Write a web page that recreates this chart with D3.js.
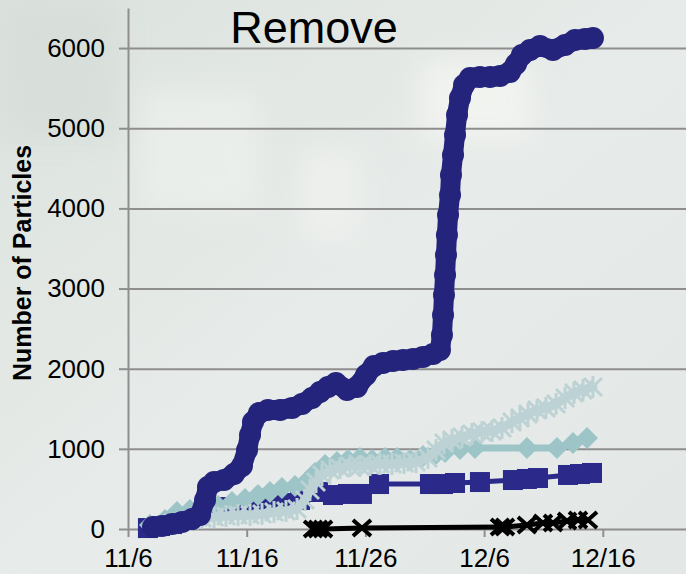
<!DOCTYPE html>
<html>
<head>
<meta charset="utf-8">
<script src="https://cdn.jsdelivr.net/npm/d3@7"></script>
<style>
  body { margin: 0; background: #e6ebe9; }
  text { font-family: "Liberation Sans", Arial, sans-serif; }
</style>
</head>
<body>
<div id="chart"></div>
<script>
// chart size
var svgWidth = 686;
var svgHeight = 574;

// tick labels
var xTickLabels = ["11/6", "11/16", "11/26", "12/6", "12/16"];
var yTicks = [0, 1000, 2000, 3000, 4000, 5000, 6000];

// days after 11/6 and particle counts
var circleDays = [2.11, 2.86, 3.71, 4.55, 5.39, 6.07, 6.49, 6.74, 7.25, 8.09, 8.93, 9.60, 10.03, 10.28, 10.53, 11.04, 11.79, 12.81, 13.82, 14.66, 15.50, 16.18, 16.85, 17.52, 18.45, 19.29, 20.05, 20.72, 21.48, 22.33, 23.17, 24.01, 24.85, 25.70, 26.28, 26.45, 26.54, 26.62, 26.71, 26.79, 26.87, 26.96, 27.13, 27.21, 27.38, 27.55, 27.72, 27.97, 28.31, 28.81, 29.65, 30.50, 31.34, 32.18, 32.69, 33.19, 33.87, 34.71, 35.80, 36.82, 37.66, 38.50, 39.17];
var circleVals = [25, 37, 62, 87, 125, 175, 362, 524, 586, 611, 686, 786, 986, 1173, 1335, 1447, 1485, 1485, 1510, 1560, 1634, 1709, 1772, 1822, 1734, 1772, 1921, 2034, 2071, 2096, 2109, 2121, 2146, 2183, 2233, 2420, 2670, 2920, 3169, 3419, 3668, 3918, 4167, 4417, 4666, 4916, 5165, 5377, 5540, 5627, 5640, 5640, 5652, 5702, 5802, 5914, 5976, 6026, 5976, 6039, 6101, 6113, 6126];

var diamondDays = [1.85, 3.12, 4.13, 5.22, 6.49, 7.58, 8.76, 9.86, 10.95, 11.96, 12.97, 14.07, 14.91, 15.75, 16.60, 17.61, 18.53, 19.54, 20.56, 21.65, 22.66, 23.76, 24.85, 25.86, 26.71, 27.97, 29.23, 33.61, 36.14, 37.49, 38.67];
var diamondVals = [50, 112, 212, 237, 262, 287, 337, 374, 424, 462, 512, 536, 574, 699, 799, 836, 861, 886, 861, 886, 886, 861, 911, 923, 961, 998, 1011, 1011, 1011, 1073, 1135];

var starDays = [3.12, 4.21, 5.22, 6.23, 7.25, 8.26, 9.27, 10.28, 11.29, 12.30, 13.31, 14.24, 14.91, 15.33, 15.84, 16.34, 17.02, 17.86, 18.70, 19.54, 20.39, 21.23, 22.24, 23.25, 24.26, 25.27, 25.95, 26.62, 27.30, 28.14, 28.98, 29.82, 30.67, 31.51, 32.35, 33.02, 33.70, 34.46, 35.21, 36.06, 36.82, 37.57, 38.33, 39.17];
var starVals = [50, 87, 112, 137, 150, 162, 175, 175, 187, 212, 225, 250, 362, 487, 586, 674, 736, 761, 786, 786, 799, 811, 811, 823, 836, 886, 986, 1073, 1110, 1148, 1185, 1210, 1223, 1260, 1335, 1385, 1435, 1485, 1510, 1560, 1634, 1697, 1734, 1772];

var squareDays = [1.68, 2.70, 3.71, 4.80, 5.90, 6.91, 8.59, 10.28, 11.96, 13.65, 14.49, 15.00, 16.01, 17.27, 18.53, 19.71, 21.15, 25.44, 26.54, 27.55, 29.65, 32.43, 33.61, 34.54, 37.07, 38.08, 39.09];
var squareVals = [12, 37, 62, 112, 187, 250, 274, 287, 299, 324, 362, 462, 462, 424, 437, 437, 561, 561, 561, 574, 586, 611, 624, 636, 674, 686, 699];

var crossDays = [15.59, 16.01, 16.43, 19.71, 31.34, 31.76, 33.61, 34.96, 35.80, 36.99, 37.91, 38.75];
var crossVals = [0, 0, 0, 12, 25, 25, 50, 75, 75, 100, 112, 112];

var startDate = Date.UTC(2010, 10, 6);
function toDate(d) { return new Date(startDate + d * 864e5); }
function pairs(days, vals) { return days.map(function (d, i) { return { date: toDate(d), value: vals[i] }; }); }

var svg = d3.select("#chart").append("svg")
  .attr("width", svgWidth)
  .attr("height", svgHeight);

// soft photo-like background
var defs = svg.append("defs");
defs.append("filter").attr("id", "blur").append("feGaussianBlur").attr("stdDeviation", 14);
var grad = defs.append("linearGradient").attr("id", "bg").attr("x1", 0).attr("y1", 0).attr("x2", 1).attr("y2", 1);
grad.append("stop").attr("offset", "0%").attr("stop-color", "#dbe2dd");
grad.append("stop").attr("offset", "50%").attr("stop-color", "#e7ebe9");
grad.append("stop").attr("offset", "100%").attr("stop-color", "#e3e8e6");
svg.append("rect").attr("width", svgWidth).attr("height", svgHeight).attr("fill", "url(#bg)");
var blobs = svg.append("g").attr("filter", "url(#blur)").attr("opacity", 0.7);
blobs.append("rect").attr("x", 420).attr("y", 60).attr("width", 110).attr("height", 80).attr("fill", "#f6f7f3");
blobs.append("rect").attr("x", 140).attr("y", 90).attr("width", 120).attr("height", 120).attr("fill", "#eef1ee");
blobs.append("rect").attr("x", 300).attr("y", 150).attr("width", 60).attr("height", 90).attr("fill", "#f1f3f0");
blobs.append("rect").attr("x", 0).attr("y", 0).attr("width", 120).attr("height", 140).attr("fill", "#d6ddd8");

// scales
var x = d3.scaleUtc()
  .domain([toDate(0), toDate(50)])
  .range([128, 128 + 50 * 11.87]);
var y = d3.scaleLinear()
  .domain([0, 6500])
  .range([529, 8]);

var xTickDates = xTickLabels.map(function (s) {
  var p = s.split("/");
  return new Date(Date.UTC(2010, +p[0] - 1, +p[1]));
});

// gridlines
svg.append("g")
  .attr("class", "grid")
  .attr("transform", "translate(128,0)")
  .call(d3.axisLeft(y).tickValues(yTicks.slice(1)).tickSize(-(svgWidth - 128)).tickFormat(""))
  .call(function (g) { g.select(".domain").remove(); })
  .selectAll("line").attr("stroke", "#8e8e8e").attr("stroke-width", 2);

// y axis
svg.append("g")
  .attr("transform", "translate(128,0)")
  .call(d3.axisLeft(y).tickValues(yTicks).tickFormat(d3.format("d")).tickSize(9).tickSizeOuter(0).tickPadding(14))
  .call(function (g) {
    g.select(".domain").attr("stroke", "#8e8e8e").attr("stroke-width", 2);
    g.selectAll("line").attr("stroke", "#8e8e8e").attr("stroke-width", 2);
    g.selectAll("text").attr("font-size", 26).attr("fill", "#000")
      .style("font-family", "'Liberation Sans', Arial, sans-serif");
  });

// x axis
svg.append("g")
  .attr("transform", "translate(0,529)")
  .call(d3.axisBottom(x).tickValues(xTickDates).tickFormat(function (d, i) { return xTickLabels[i]; })
    .tickSize(8).tickSizeOuter(0).tickPadding(12))
  .call(function (g) {
    g.select(".domain").attr("stroke", "#8e8e8e").attr("stroke-width", 2);
    g.selectAll("line").attr("stroke", "#8e8e8e").attr("stroke-width", 2);
    g.selectAll("text").attr("font-size", 26).attr("fill", "#000")
      .style("font-family", "'Liberation Sans', Arial, sans-serif");
  });

var line = d3.line().x(function (d) { return x(d.date); }).y(function (d) { return y(d.value); });

function drawSeries(data, color, width, marker) {
  var g = svg.append("g");
  g.append("path").datum(data)
    .attr("fill", "none").attr("stroke", color).attr("stroke-width", width)
    .attr("stroke-linejoin", "round").attr("stroke-linecap", "round").attr("d", line);
  g.selectAll("g.m").data(data).enter().append("g")
    .attr("class", "m")
    .attr("transform", function (d) { return "translate(" + x(d.date) + "," + y(d.value) + ")"; })
    .each(function () { marker(d3.select(this), color); });
}

function squareMarker(s, c) { s.append("rect").attr("x", -10).attr("y", -10).attr("width", 20).attr("height", 20).attr("fill", c); }
function diamondMarker(s, c) { s.append("path").attr("d", "M0,-11L11,0L0,11L-11,0Z").attr("fill", c); }
function circleMarker(s, c) { s.append("circle").attr("r", 11).attr("fill", c); }
function starMarker(s, c) {
  s.append("path").attr("d", "M-9,-9L9,9M-9,9L9,-9M0,-11L0,11")
    .attr("stroke", c).attr("stroke-width", 3).attr("fill", "none");
}
function crossMarker(s, c) {
  s.append("path").attr("d", "M-9,-8L9,8M-9,8L9,-8")
    .attr("stroke", c).attr("stroke-width", 4).attr("fill", "none");
}

// markers overlap so tightly in the original that each series reads as a band
drawSeries(pairs(squareDays, squareVals), "#2b2a8b", 5, squareMarker);
drawSeries(pairs(diamondDays, diamondVals), "#9dc5c7", 7, diamondMarker);
drawSeries(pairs(starDays, starVals), "#bdd2d4", 9, starMarker);
drawSeries(pairs(crossDays, crossVals), "#000000", 5, crossMarker);
drawSeries(pairs(circleDays, circleVals), "#25247d", 20, circleMarker);

// title
svg.append("text")
  .attr("x", 314).attr("y", 43)
  .attr("text-anchor", "middle")
  .attr("font-size", 45)
  .text("Remove");

// y axis label
svg.append("text")
  .attr("transform", "rotate(-90)")
  .attr("x", -263).attr("y", 31)
  .attr("text-anchor", "middle")
  .attr("font-size", 25)
  .attr("font-weight", "bold")
  .text("Number of Particles");
</script>
</body>
</html>
